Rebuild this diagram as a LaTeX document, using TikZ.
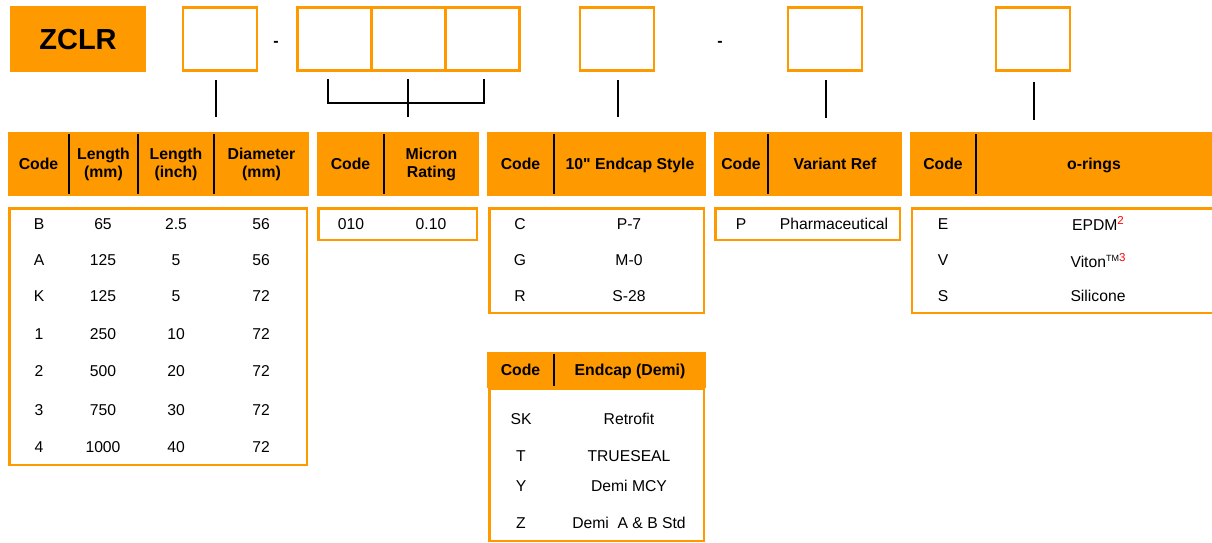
\documentclass[tikz,border=0pt]{standalone}
\usepackage{fontspec}
\setmainfont{Liberation Sans}
\usetikzlibrary{positioning}
\definecolor{zorange}{HTML}{FF9900}
\newcommand{\note}[1]{\raisebox{6pt}{\fontsize{11.5}{11}\selectfont\color{red}#1}}
\newcommand{\tmark}{\raisebox{6.5pt}{\fontsize{9}{9}\selectfont TM}}
\newcommand{\inchmark}{\XeTeXglyph\XeTeXcharglyph34\relax}

\begin{document}
\begin{tikzpicture}[x=1pt,y=-1pt,
    slot/.style={draw=zorange,line width=2.5pt,minimum width=74pt,minimum height=63pt,inner sep=0pt},
    head/.style={fill=zorange,minimum height=64pt,inner sep=0pt,outer sep=0pt,align=center,
      font=\fontsize{15.8}{18}\selectfont\bfseries},
    headone/.style={head,text height=11.5pt,text depth=0pt},
    panel/.style={draw=zorange,line width=2.5pt,inner sep=0pt},
    cell/.style={font=\fontsize{15.7}{18}\selectfont,inner sep=0pt,text height=11.3pt,text depth=0pt},
    sep/.style={line width=2pt,shorten >=2pt,shorten <=2pt},
    tick/.style={line width=2pt}]

  \useasboundingbox (0,0) rectangle (1212,543);

  % part number
  \node[headone,minimum width=136pt,minimum height=66pt,text height=21pt,font=\fontsize{29}{30}\selectfont\bfseries] (zclr) at (78,39) {ZCLR};
  \node[slot] (s1) at (220,39) {};
  \node[cell,font=\fontsize{16}{18}\selectfont\bfseries] (dash1) at (276,41) {-};
  \node[slot] (s2) at (334.5,39) {};
  \node[slot,right=-2.5pt of s2] (s3) {};
  \node[slot,right=-2.5pt of s3] (s4) {};
  \node[slot] (s5) at (617,39) {};
  \node[cell,font=\fontsize{16}{18}\selectfont\bfseries] (dash2) at (720,41) {-};
  \node[slot] (s6) at (825,39) {};
  \node[slot] (s7) at (1033,39) {};

  \coordinate (k1) at (216,80);
  \coordinate (bl) at (328,79);
  \coordinate (bm) at (408,79);
  \coordinate (br) at (484,79);
  \coordinate (k5) at (618,80);
  \coordinate (k6) at (826,80);
  \coordinate (k7) at (1034,82);
  \draw[tick] (k1) -- ++(0,37);
  \draw[tick] (bl) -- ++(0,24) -| (br);
  \draw[tick] (bm) -- ++(0,38);
  \draw[tick] (k5) -- ++(0,37);
  \draw[tick] (k6) -- ++(0,38);
  \draw[tick] (k7) -- ++(0,38);

  % headers
  \node[headone,minimum width=61pt] (h1code) at (38.5,164) {Code};
  \node[head,minimum width=69pt,right=0pt of h1code] (h1mm) {Length\\(mm)};
  \node[head,minimum width=76pt,right=0pt of h1mm] (h1in) {Length\\(inch)};
  \node[head,minimum width=95pt,right=0pt of h1in] (h1dia) {Diameter\\(mm)};
  \draw[sep] (h1code.north east) -- (h1code.south east);
  \draw[sep] (h1mm.north east) -- (h1mm.south east);
  \draw[sep] (h1in.north east) -- (h1in.south east);

  \node[headone,minimum width=67pt] (h2code) at (350.5,164) {Code};
  \node[head,minimum width=95pt,right=0pt of h2code] (h2mic) {Micron\\Rating};
  \draw[sep] (h2code.north east) -- (h2code.south east);

  \node[headone,minimum width=67pt] (h3code) at (520.5,164) {Code};
  \node[headone,minimum width=152pt,right=0pt of h3code] (h3cap) {10\inchmark{} Endcap Style};
  \draw[sep] (h3code.north east) -- (h3code.south east);

  \node[headone,minimum width=54pt] (h4code) at (741,164) {Code};
  \node[headone,minimum width=134pt,right=0pt of h4code] (h4var) {Variant Ref};
  \draw[sep] (h4code.north east) -- (h4code.south east);

  \node[headone,minimum width=66pt] (h5code) at (943,164) {Code};
  \node[headone,minimum width=236pt,right=0pt of h5code] (h5ring) {o-rings};
  \draw[sep] (h5code.north east) -- (h5code.south east);

  % data panels
  \node[panel,minimum width=297.5pt,minimum height=256.5pt] (p1) at (158,336.5) {};
  \node[panel,minimum width=158.5pt,minimum height=31.5pt] (p2) at (397.5,224) {};
  \node[panel,minimum width=214.5pt,minimum height=104.5pt] (p3) at (596.5,260.5) {};
  \node[panel,minimum width=184.5pt,minimum height=31.5pt] (p4) at (807.5,224) {};
  \node[panel,minimum width=302pt,minimum height=104.5pt] (p5) at (1063,260.5) {};
  \node[panel,minimum width=214.5pt,minimum height=152pt] (p6) at (596.5,465) {};

  \node[headone,minimum width=67pt,minimum height=36pt] (h6code) at (520.5,370) {Code};
  \node[headone,minimum width=152pt,minimum height=36pt,right=0pt of h6code] (h6cap) {Endcap (Demi)};
  \draw[sep] (h6code.north east) -- (h6code.south east);

  % rows
  \foreach \yy/\cd/\lmm/\lin/\dia [count=\i] in {224/B/65/2.5/56, 260/A/125/5/56,
      296/K/125/5/72, 334/1/250/10/72, 371/2/500/20/72, 410/3/750/30/72, 447/4/1000/40/72}{
    \node[cell] (cd\i) at (39,\yy) {\cd};
    \node[cell] (mm\i) at (103,\yy) {\lmm};
    \node[cell] (in\i) at (176,\yy) {\lin};
    \node[cell] (dia\i) at (261,\yy) {\dia};
  }

  \node[cell] (mic1) at (351,224) {010};
  \node[cell] (mic2) at (431,224) {0.10};

  \foreach \yy/\cd/\sty [count=\i] in {224/C/P-7, 260/G/M-0, 296/R/S-28}{
    \node[cell] (ec\i) at (520,\yy) {\cd};
    \node[cell] (es\i) at (629,\yy) {\sty};
  }

  \node[cell] (var1) at (741,224) {P};
  \node[cell] (var2) at (834,224) {Pharmaceutical};

  \node[cell] (oc1) at (943,224) {E};
  \node[cell] (or1) at (1098,225) {EPDM\note{2}};
  \node[cell] (oc2) at (943,260) {V};
  \node[cell] (or2) at (1098,262) {Viton\tmark\note{3}};
  \node[cell] (oc3) at (943,296) {S};
  \node[cell] (or3) at (1098,296) {Silicone};

  \foreach \yy/\cd/\sty [count=\i] in {419/SK/Retrofit, 456/T/TRUESEAL, 486/Y/Demi MCY, 523/Z/Demi\ \ A \& B Std}{
    \node[cell] (dc\i) at (521,\yy) {\cd};
    \node[cell] (ds\i) at (629,\yy) {\sty};
  }
\end{tikzpicture}
\end{document}
